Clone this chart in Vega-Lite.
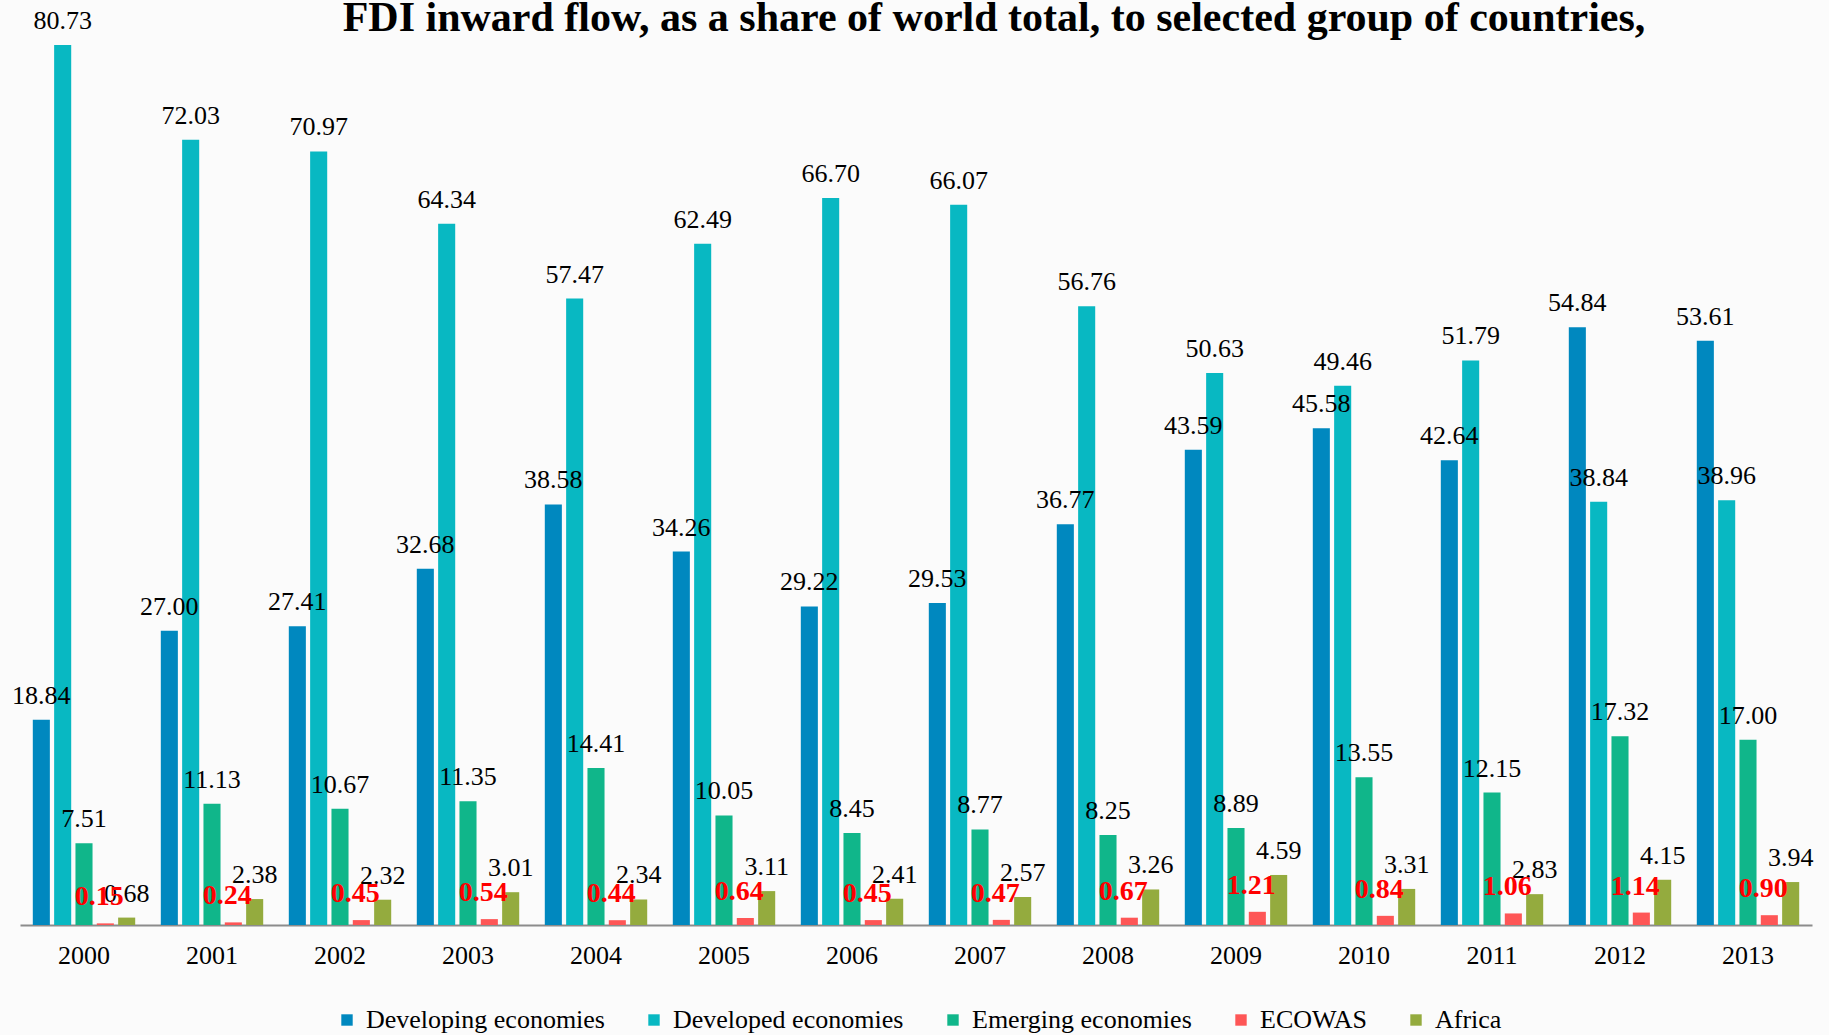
{
  "$schema": "https://vega.github.io/schema/vega-lite/v6.json",
  "autosize": {"type": "none"},
  "width": 1792,
  "height": 925,
  "padding": {"left": 20, "right": 17, "top": 0, "bottom": 110},
  "background": "#fbfbfb",
  "title": {
    "text": "FDI inward flow, as a share of world total, to selected group of countries,",
    "font": "Liberation Serif",
    "fontSize": 42,
    "fontWeight": "bold",
    "color": "#000000",
    "anchor": "middle",
    "frame": "group",
    "baseline": "alphabetic",
    "offset": 0,
    "dy": 73,
    "dx": 78
  },
  "config": {
    "view": {"stroke": null},
    "font": "Liberation Serif"
  },
  "data": {
    "values": [
      {"year": "2000", "group": "Developing economies", "value": 18.84},
      {"year": "2001", "group": "Developing economies", "value": 27.00},
      {"year": "2002", "group": "Developing economies", "value": 27.41},
      {"year": "2003", "group": "Developing economies", "value": 32.68},
      {"year": "2004", "group": "Developing economies", "value": 38.58},
      {"year": "2005", "group": "Developing economies", "value": 34.26},
      {"year": "2006", "group": "Developing economies", "value": 29.22},
      {"year": "2007", "group": "Developing economies", "value": 29.53},
      {"year": "2008", "group": "Developing economies", "value": 36.77},
      {"year": "2009", "group": "Developing economies", "value": 43.59},
      {"year": "2010", "group": "Developing economies", "value": 45.58},
      {"year": "2011", "group": "Developing economies", "value": 42.64},
      {"year": "2012", "group": "Developing economies", "value": 54.84},
      {"year": "2013", "group": "Developing economies", "value": 53.61},
      {"year": "2000", "group": "Developed economies", "value": 80.73},
      {"year": "2001", "group": "Developed economies", "value": 72.03},
      {"year": "2002", "group": "Developed economies", "value": 70.97},
      {"year": "2003", "group": "Developed economies", "value": 64.34},
      {"year": "2004", "group": "Developed economies", "value": 57.47},
      {"year": "2005", "group": "Developed economies", "value": 62.49},
      {"year": "2006", "group": "Developed economies", "value": 66.70},
      {"year": "2007", "group": "Developed economies", "value": 66.07},
      {"year": "2008", "group": "Developed economies", "value": 56.76},
      {"year": "2009", "group": "Developed economies", "value": 50.63},
      {"year": "2010", "group": "Developed economies", "value": 49.46},
      {"year": "2011", "group": "Developed economies", "value": 51.79},
      {"year": "2012", "group": "Developed economies", "value": 38.84},
      {"year": "2013", "group": "Developed economies", "value": 38.96},
      {"year": "2000", "group": "Emerging economies", "value": 7.51},
      {"year": "2001", "group": "Emerging economies", "value": 11.13},
      {"year": "2002", "group": "Emerging economies", "value": 10.67},
      {"year": "2003", "group": "Emerging economies", "value": 11.35},
      {"year": "2004", "group": "Emerging economies", "value": 14.41},
      {"year": "2005", "group": "Emerging economies", "value": 10.05},
      {"year": "2006", "group": "Emerging economies", "value": 8.45},
      {"year": "2007", "group": "Emerging economies", "value": 8.77},
      {"year": "2008", "group": "Emerging economies", "value": 8.25},
      {"year": "2009", "group": "Emerging economies", "value": 8.89},
      {"year": "2010", "group": "Emerging economies", "value": 13.55},
      {"year": "2011", "group": "Emerging economies", "value": 12.15},
      {"year": "2012", "group": "Emerging economies", "value": 17.32},
      {"year": "2013", "group": "Emerging economies", "value": 17.00},
      {"year": "2000", "group": "ECOWAS", "value": 0.15},
      {"year": "2001", "group": "ECOWAS", "value": 0.24},
      {"year": "2002", "group": "ECOWAS", "value": 0.45},
      {"year": "2003", "group": "ECOWAS", "value": 0.54},
      {"year": "2004", "group": "ECOWAS", "value": 0.44},
      {"year": "2005", "group": "ECOWAS", "value": 0.64},
      {"year": "2006", "group": "ECOWAS", "value": 0.45},
      {"year": "2007", "group": "ECOWAS", "value": 0.47},
      {"year": "2008", "group": "ECOWAS", "value": 0.67},
      {"year": "2009", "group": "ECOWAS", "value": 1.21},
      {"year": "2010", "group": "ECOWAS", "value": 0.84},
      {"year": "2011", "group": "ECOWAS", "value": 1.06},
      {"year": "2012", "group": "ECOWAS", "value": 1.14},
      {"year": "2013", "group": "ECOWAS", "value": 0.90},
      {"year": "2000", "group": "Africa", "value": 0.68},
      {"year": "2001", "group": "Africa", "value": 2.38},
      {"year": "2002", "group": "Africa", "value": 2.32},
      {"year": "2003", "group": "Africa", "value": 3.01},
      {"year": "2004", "group": "Africa", "value": 2.34},
      {"year": "2005", "group": "Africa", "value": 3.11},
      {"year": "2006", "group": "Africa", "value": 2.41},
      {"year": "2007", "group": "Africa", "value": 2.57},
      {"year": "2008", "group": "Africa", "value": 3.26},
      {"year": "2009", "group": "Africa", "value": 4.59},
      {"year": "2010", "group": "Africa", "value": 3.31},
      {"year": "2011", "group": "Africa", "value": 2.83},
      {"year": "2012", "group": "Africa", "value": 4.15},
      {"year": "2013", "group": "Africa", "value": 3.94}
    ]
  },
  "encoding": {
    "x": {
      "field": "year",
      "type": "nominal",
      "scale": {"paddingInner": 0.2, "paddingOuter": 0.1},
      "axis": {
        "title": null,
        "labelAngle": 0,
        "labelFont": "Liberation Serif",
        "labelFontSize": 26,
        "labelColor": "#000000",
        "labelPadding": 17,
        "ticks": false,
        "domainColor": "#8c8c8c",
        "domainWidth": 2,
        "grid": false
      }
    },
    "xOffset": {
      "field": "group",
      "type": "nominal",
      "sort": ["Developing economies", "Developed economies", "Emerging economies", "ECOWAS", "Africa"],
      "scale": {"paddingInner": 0.2, "paddingOuter": 0}
    },
    "y": {
      "field": "value",
      "type": "quantitative",
      "scale": {"domain": [0, 84.86], "nice": false},
      "axis": null
    }
  },
  "layer": [
    {
      "mark": {"type": "bar"},
      "encoding": {
        "color": {
          "field": "group",
          "type": "nominal",
          "sort": ["Developing economies", "Developed economies", "Emerging economies", "ECOWAS", "Africa"],
          "scale": {
            "domain": ["Developing economies", "Developed economies", "Emerging economies", "ECOWAS", "Africa"],
            "range": ["#0088bf", "#08b8c2", "#10b68a", "#fe5656", "#94ab3e"]
          },
          "legend": {
            "title": null,
            "orient": "none",
            "direction": "horizontal",
            "legendX": 314,
            "legendY": 1007,
            "symbolType": "square",
            "symbolSize": 130,
            "symbolStrokeWidth": 0,
            "labelFont": "Liberation Serif",
            "labelFontSize": 26,
            "labelColor": "#000000",
            "labelOffset": 6,
            "columnPadding": 36,
            "labelLimit": 400
          }
        }
      }
    },
    {
      "transform": [{"filter": "datum.group !== 'ECOWAS'"}],
      "mark": {
        "type": "text",
        "baseline": "alphabetic",
        "dy": -16,
        "font": "Liberation Serif",
        "fontSize": 26,
        "color": "#000000"
      },
      "encoding": {
        "text": {"field": "value", "type": "quantitative", "format": ".2f"}
      }
    },
    {
      "transform": [{"filter": "datum.group === 'ECOWAS'"}],
      "mark": {
        "type": "text",
        "baseline": "alphabetic",
        "dy": -18,
        "dx": -6,
        "font": "Liberation Serif",
        "fontSize": 28,
        "fontWeight": "bold",
        "color": "#ff0000"
      },
      "encoding": {
        "text": {"field": "value", "type": "quantitative", "format": ".2f"}
      }
    }
  ]
}
